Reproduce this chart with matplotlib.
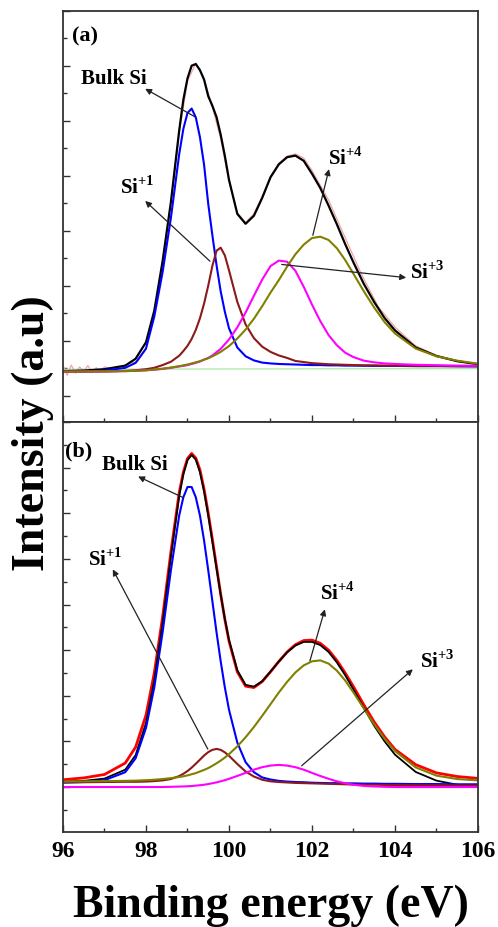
import matplotlib
matplotlib.use("Agg")
import matplotlib.pyplot as plt
from matplotlib.ticker import MultipleLocator, NullFormatter

plt.rcParams['font.family'] = ['Liberation Serif', 'DejaVu Serif']
plt.rcParams['font.weight'] = 'bold'
plt.rcParams['mathtext.fontset'] = 'custom'
plt.rcParams['mathtext.rm'] = 'Liberation Serif:bold'
plt.rcParams['mathtext.bf'] = 'Liberation Serif:bold'

# binding energy grid (eV) shared by all fitted curves
energy = [96.0, 96.5, 97.0, 97.5, 97.75, 98.0, 98.2, 98.4, 98.6, 98.8, 98.9,
          99.0, 99.1, 99.2, 99.3, 99.4, 99.5, 99.6, 99.7, 99.8, 99.9, 100.0,
          100.2, 100.4, 100.6, 100.8, 101.0, 101.2, 101.4, 101.6, 101.8, 102.0,
          102.2, 102.4, 102.6, 102.8, 103.0, 103.25, 103.5, 103.75, 104.0,
          104.5, 105.0, 105.5, 106.0]

# ---- panel (a) ----
a_envelope = [0.90, 0.92, 0.97, 1.10, 1.35, 1.95, 3.10, 4.90, 7.05, 9.65, 10.77,
              11.55, 12.01, 12.07, 11.85, 11.50, 10.90, 10.55, 10.14, 9.50, 8.73, 7.86,
              6.62, 6.26, 6.55, 7.20, 7.95, 8.42, 8.68, 8.74, 8.55, 8.08,
              7.56, 6.92, 6.24, 5.52, 4.85, 4.07, 3.41, 2.83, 2.38,
              1.76, 1.45, 1.26, 1.15]
a_bulk = [0.88, 0.89, 0.92, 1.02, 1.20, 1.72, 2.89, 4.50, 6.47, 8.79, 9.71,
          10.29, 10.45, 10.13, 9.41, 8.40, 6.98, 5.84, 4.75, 3.80, 3.06, 2.46,
          1.76, 1.44, 1.29, 1.21, 1.18, 1.16, 1.15, 1.14, 1.13, 1.12,
          1.12, 1.11, 1.11, 1.10, 1.10, 1.095, 1.09, 1.09, 1.09,
          1.08, 1.08, 1.075, 1.07]
a_si1 = [0.88, 0.885, 0.89, 0.91, 0.93, 0.97, 1.02, 1.12, 1.24, 1.46, 1.63,
         1.82, 2.07, 2.40, 2.82, 3.36, 4.01, 4.73, 5.28, 5.39, 5.11, 4.57,
         3.42, 2.60, 2.10, 1.79, 1.60, 1.47, 1.38, 1.27, 1.23, 1.19,
         1.17, 1.15, 1.14, 1.13, 1.12, 1.11, 1.11, 1.10, 1.10,
         1.09, 1.09, 1.08, 1.08]
a_si3 = [0.88, 0.885, 0.89, 0.90, 0.91, 0.93, 0.95, 0.98, 1.02, 1.07, 1.09,
         1.12, 1.16, 1.20, 1.25, 1.32, 1.38, 1.47, 1.59, 1.71, 1.88, 2.05,
         2.49, 3.03, 3.64, 4.23, 4.72, 4.92, 4.88, 4.55, 3.97, 3.32,
         2.72, 2.21, 1.84, 1.57, 1.41, 1.28, 1.22, 1.18, 1.16,
         1.13, 1.115, 1.10, 1.095]
a_si4 = [0.88, 0.885, 0.89, 0.90, 0.91, 0.93, 0.96, 0.99, 1.03, 1.08, 1.11,
         1.14, 1.18, 1.22, 1.26, 1.315, 1.37, 1.44, 1.515, 1.60, 1.705, 1.81,
         2.085, 2.41, 2.805, 3.26, 3.755, 4.21, 4.70, 5.15, 5.50, 5.74,
         5.79, 5.67, 5.37, 4.94, 4.44, 3.80, 3.21, 2.68, 2.27,
         1.72, 1.44, 1.28, 1.17]

# measured spectrum of panel (a)
a_raw_energy = [96.0, 96.1, 96.2, 96.3, 96.4, 96.5, 96.6, 96.7, 96.8, 96.9, 97.0,
                97.2, 97.4, 97.6, 97.8, 98.0, 98.2, 98.4, 98.6, 98.8, 99.0, 99.2,
                99.4, 99.6, 99.8, 100.0, 100.2, 100.4, 100.6, 100.8, 101.0, 101.2,
                101.4, 101.6, 101.8, 102.0, 102.4, 102.8, 103.2, 103.6, 104.0,
                104.5, 105.0, 105.5, 106.0]
a_raw = [1.10, 0.75, 1.12, 0.82, 1.05, 0.90, 1.10, 0.85, 1.02, 0.92, 1.05,
         0.98, 1.05, 1.18, 1.25, 1.70, 3.00, 4.75, 7.00, 9.55, 11.45, 12.10,
         11.55, 10.50, 9.35, 7.80, 6.66, 6.30, 6.62, 7.26, 7.98, 8.46,
         8.72, 8.80, 8.65, 8.20, 7.12, 5.75, 4.40, 3.24, 2.50,
         1.82, 1.47, 1.27, 1.16]
a_base_energy = [96.0, 106.0]
a_base = [0.97, 0.99]

# ---- panel (b) ----
b_data = [0.32, 0.40, 0.55, 1.05, 1.75, 3.15, 5.00, 7.45, 10.30, 12.90, 13.80,
          14.40, 14.62, 14.42, 13.90, 13.05, 12.00, 10.85, 9.65, 8.45, 7.35, 6.40,
          5.05, 4.42, 4.36, 4.62, 5.05, 5.50, 5.92, 6.24, 6.42, 6.44,
          6.30, 6.00, 5.55, 5.00, 4.40, 3.60, 2.85, 2.20, 1.65,
          0.98, 0.62, 0.46, 0.38]
b_envelope = [0.23, 0.27, 0.37, 0.76, 1.40, 2.80, 4.68, 7.20, 10.10, 12.75, 13.70,
              14.33, 14.55, 14.35, 13.80, 12.95, 11.90, 10.75, 9.58, 8.43, 7.37, 6.45,
              5.12, 4.48, 4.40, 4.64, 5.06, 5.50, 5.90, 6.20, 6.36, 6.36,
              6.22, 5.92, 5.46, 4.90, 4.27, 3.46, 2.68, 2.00, 1.42,
              0.66, 0.28, 0.10, 0.02]
b_bulk = [0.19, 0.22, 0.30, 0.65, 1.26, 2.59, 4.37, 6.78, 9.50, 11.90, 12.70,
          13.15, 13.15, 12.70, 11.90, 10.80, 9.50, 8.14, 6.78, 5.51, 4.37, 3.39,
          1.95, 1.09, 0.65, 0.42, 0.33, 0.27, 0.24, 0.22, 0.21, 0.19,
          0.18, 0.17, 0.17, 0.16, 0.16, 0.15, 0.15, 0.14, 0.14,
          0.13, 0.13, 0.12, 0.12]
b_si1 = [0.21, 0.21, 0.22, 0.23, 0.23, 0.24, 0.26, 0.29, 0.35, 0.48, 0.58,
         0.70, 0.85, 1.02, 1.20, 1.38, 1.53, 1.63, 1.67, 1.63, 1.52, 1.37,
         1.01, 0.68, 0.46, 0.32, 0.25, 0.22, 0.20, 0.18, 0.17, 0.16,
         0.15, 0.14, 0.13, 0.12, 0.11, 0.10, 0.10, 0.09, 0.09,
         0.08, 0.08, 0.07, 0.07]
b_si3 = [0.0, 0.0, 0.0, 0.0, 0.0, 0.0, 0.0, 0.0, 0.01, 0.02, 0.025,
         0.034, 0.045, 0.061, 0.08, 0.10, 0.13, 0.165, 0.204, 0.25, 0.30, 0.36,
         0.485, 0.62, 0.76, 0.87, 0.94, 0.97, 0.94, 0.87, 0.76, 0.62,
         0.485, 0.36, 0.25, 0.165, 0.10, 0.05, 0.025, 0.01, 0.0,
         0.0, 0.0, 0.0, 0.0]
b_si4 = [0.24, 0.25, 0.26, 0.27, 0.28, 0.30, 0.32, 0.35, 0.39, 0.44, 0.47,
         0.51, 0.56, 0.61, 0.68, 0.75, 0.83, 0.93, 1.04, 1.16, 1.29, 1.44,
         1.78, 2.18, 2.63, 3.12, 3.63, 4.14, 4.61, 5.02, 5.33, 5.51,
         5.55, 5.41, 5.10, 4.67, 4.14, 3.44, 2.74, 2.11, 1.58,
         0.86, 0.50, 0.35, 0.29]

x_ticks = [96, 98, 100, 102, 104, 106]

C_BULK = '#0000ff'
C_SI1 = '#8b1a1a'
C_SI3 = '#ff00ff'
C_SI4 = '#808000'
ARROW = dict(arrowstyle='-|>', color='#222222', lw=0.9, mutation_scale=9,
             shrinkA=0, shrinkB=0)

fig = plt.figure(figsize=(4.98, 9.28), dpi=100)
ax_a = fig.add_axes([0.1265, 0.5442, 0.8333, 0.4429])
ax_b = fig.add_axes([0.1265, 0.1024, 0.8333, 0.4418])


def style(ax, ylo, yhi):
    ax.set_xlim(96, 106)
    ax.set_ylim(ylo, yhi)
    ax.set_xticks(x_ticks)
    ax.xaxis.set_minor_locator(MultipleLocator(1))
    ax.yaxis.set_major_locator(MultipleLocator(2))
    ax.yaxis.set_minor_locator(MultipleLocator(1))
    ax.yaxis.set_major_formatter(NullFormatter())
    ax.tick_params(which='both', direction='in', top=False, right=False,
                   width=1.0, color='#333333')
    ax.tick_params(which='major', length=5)
    ax.tick_params(which='minor', length=3)
    for s in ax.spines.values():
        s.set_linewidth(1.3)
        s.set_color('#333333')


def curve(ax, x, y, color, lw):
    ax.plot(x, y, color=color, lw=lw, solid_joinstyle='round',
            solid_capstyle='round')


def si_label(ax, text, x, y):
    ax.text(x, y, text, fontsize=15, fontweight='bold', va='center', ha='left')


# panel (a)
style(ax_a, -0.95, 14.0)
ax_a.xaxis.set_major_formatter(NullFormatter())
curve(ax_a, a_base_energy, a_base, '#9be89b', 0.8)
curve(ax_a, a_raw_energy, a_raw, '#f3a3a3', 0.9)
curve(ax_a, energy, a_envelope, 'black', 1.6)
curve(ax_a, energy, a_bulk, C_BULK, 1.5)
curve(ax_a, energy, a_si1, C_SI1, 1.5)
curve(ax_a, energy, a_si3, C_SI3, 1.5)
curve(ax_a, energy, a_si4, C_SI4, 1.5)

ax_a.text(96.22, 13.1, '(a)', fontsize=16, fontweight='bold', va='center')
ax_a.text(96.44, 11.57, 'Bulk Si', fontsize=15, fontweight='bold', va='center')
ax_a.annotate('', xy=(97.98, 11.17), xytext=(99.18, 10.15), arrowprops=ARROW)
si_label(ax_a, r'Si$^{+1}$', 97.37, 7.63)
ax_a.annotate('', xy=(97.98, 7.09), xytext=(99.54, 4.90), arrowprops=ARROW)
si_label(ax_a, r'Si$^{+4}$', 102.39, 8.67)
ax_a.annotate('', xy=(102.41, 8.25), xytext=(102.02, 5.84), arrowprops=ARROW)
si_label(ax_a, r'Si$^{+3}$', 104.36, 4.54)
ax_a.annotate('', xy=(104.27, 4.30), xytext=(101.27, 4.78), arrowprops=ARROW)

# panel (b)
style(ax_b, -1.97, 16.0)
curve(ax_b, energy, b_data, '#ff0000', 2.0)
curve(ax_b, energy, b_envelope, 'black', 1.3)
curve(ax_b, energy, b_bulk, C_BULK, 1.5)
curve(ax_b, energy, b_si1, C_SI1, 1.5)
curve(ax_b, energy, b_si4, C_SI4, 1.5)
curve(ax_b, energy, b_si3, C_SI3, 1.5)

ax_b.text(96.05, 14.75, '(b)', fontsize=16, fontweight='bold', va='center')
ax_b.text(96.94, 14.14, 'Bulk Si', fontsize=15, fontweight='bold', va='center')
ax_b.annotate('', xy=(97.81, 13.61), xytext=(98.89, 12.69), arrowprops=ARROW)
si_label(ax_b, r'Si$^{+1}$', 96.60, 10.02)
ax_b.annotate('', xy=(97.20, 9.54), xytext=(99.49, 1.66), arrowprops=ARROW)
si_label(ax_b, r'Si$^{+4}$', 102.19, 8.53)
ax_b.annotate('', xy=(102.31, 7.79), xytext=(101.95, 5.53), arrowprops=ARROW)
si_label(ax_b, r'Si$^{+3}$', 104.60, 5.56)
ax_b.annotate('', xy=(104.43, 5.16), xytext=(101.75, 0.93), arrowprops=ARROW)

ax_b.set_xticklabels([str(t) for t in x_ticks], fontsize=17, fontweight='bold')
ax_b.tick_params(axis='x', which='major', pad=6)
ax_b.set_xlabel('Binding energy (eV)', fontsize=33, fontweight='bold', labelpad=16)

fig.text(0.066, 0.533, 'Intensity (a.u)', rotation=90, fontsize=33,
         fontweight='bold', ha='center', va='center')

fig.savefig('out.png', dpi=100)
